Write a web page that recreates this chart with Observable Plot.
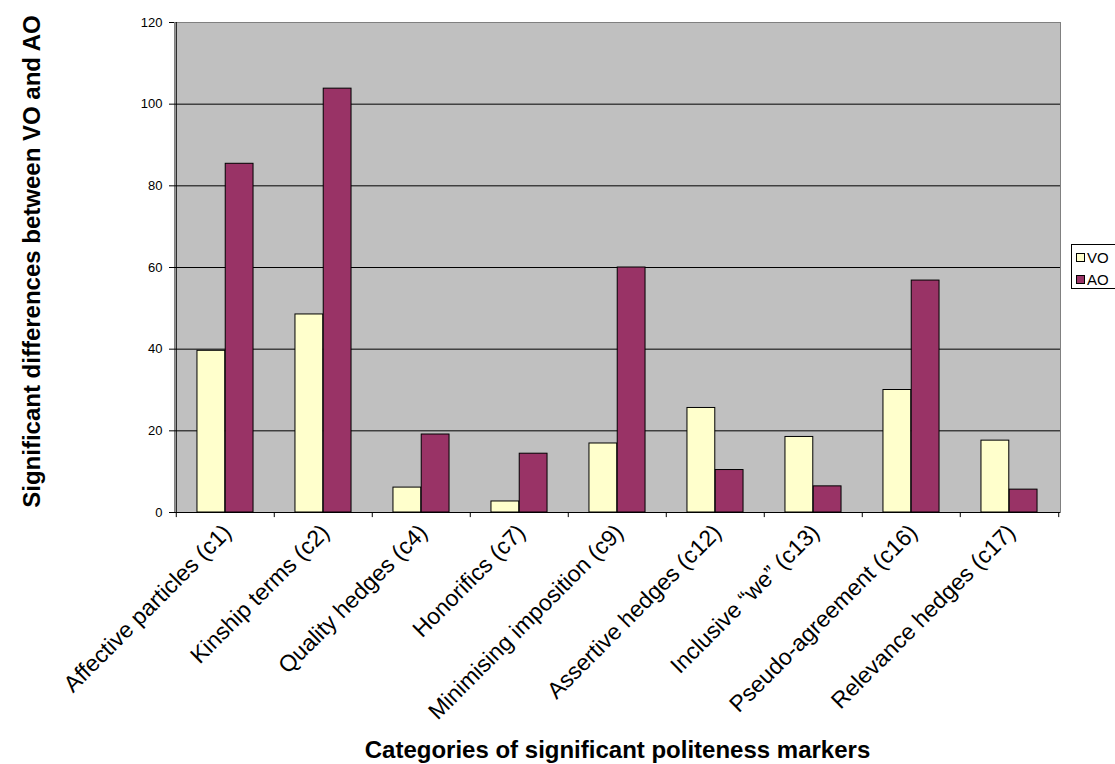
<!DOCTYPE html>
<html>
<head>
<meta charset="utf-8">
<script src="https://cdn.jsdelivr.net/npm/d3@7"></script>
<script src="https://cdn.jsdelivr.net/npm/@observablehq/plot@0.6"></script>
<style>
  html, body { margin: 0; padding: 0; background: #fff; overflow: hidden; }
  #wrap { position: relative; width: 1115px; height: 764px; font-family: "Liberation Sans", Arial, sans-serif; }
  #legend { position: absolute; left: 1071px; top: 244px; width: 60px; height: 45px; border: 1px solid #000; background: #fff; box-sizing: border-box; }
  .item { position: absolute; left: 4px; font-size: 15px; line-height: 15px; color: #000; display: flex; align-items: center; }
  .sw { width: 7px; height: 7px; border: 1px solid #000; margin-right: 2px; }
</style>
</head>
<body>
<div id="wrap"></div>
<script>
const categories = ["Affective particles (c1)", "Kinship terms (c2)", "Quality hedges (c4)", "Honorifics (c7)", "Minimising imposition (c9)", "Assertive hedges (c12)", "Inclusive \u201cwe\u201d (c13)", "Pseudo-agreement (c16)", "Relevance hedges (c17)"];
const seriesNames = ["VO", "AO"];
const voValues = [39.6, 48.5, 6.1, 2.7, 16.9, 25.6, 18.5, 30.0, 17.6];
const aoValues = [85.4, 103.8, 19.1, 14.4, 60.0, 10.4, 6.4, 56.8, 5.6];
const yTicks = [0, 20, 40, 60, 80, 100, 120];
const colors = {VO: "#FFFFCC", AO: "#993366"};
const xTitle = "Categories of significant politeness markers";
const yTitle = "Significant differences between VO and AO";

const W = 1115, H = 764, mL = 174, mR = 55, mT = 22, mB = 252;
const bw = (W - mL - mR) / categories.length;
const groupFrac = 0.574;
const outer = bw * (1 - groupFrac) / 2;
const half = bw / 2;

const chart = Plot.plot({
  width: W, height: H,
  marginLeft: mL, marginRight: mR, marginTop: mT, marginBottom: mB,
  style: {fontFamily: "'Liberation Sans', Arial, sans-serif", background: "white", color: "black"},
  x: {type: "band", domain: categories, padding: 0, axis: null},
  y: {domain: [0, 120], axis: null},
  marks: [
    Plot.frame({fill: "#C0C0C0", stroke: "#808080"}),
    Plot.ruleY(yTicks.filter(t => t > 0 && t < 120), {stroke: "#000"}),
    Plot.barY(categories, {x: d => d, y: (d, i) => voValues[i], fill: colors.VO, stroke: "#000", insetLeft: outer, insetRight: half}),
    Plot.barY(categories, {x: d => d, y: (d, i) => aoValues[i], fill: colors.AO, stroke: "#000", insetLeft: half, insetRight: outer}),
    Plot.ruleY([0], {stroke: "#000"}),
    Plot.ruleX([categories[0]], {x: d => d, y1: -1.25, y2: 120, dx: -half, stroke: "#000"}),
    Plot.ruleX(categories.slice(1), {x: d => d, y1: -1.25, y2: 0, dx: -half, stroke: "#000"}),
    Plot.ruleX([categories[categories.length - 1]], {x: d => d, y1: -1.25, y2: 0, dx: half, stroke: "#000"}),
    Plot.axisY(yTicks, {anchor: "left", tickSize: 5, tickPadding: 7, fontSize: 13, label: null, stroke: "#000", fill: "#000"}),
    Plot.text(categories, {x: d => d, y: 0, text: d => d, rotate: -45, textAnchor: "end", dy: 16, dx: 2, fontSize: 23, fill: "#000"}),
    Plot.text([xTitle], {frameAnchor: "bottom", text: d => d, textAnchor: "middle", lineAnchor: "middle", dy: 238, fontSize: 24, fontWeight: "bold", fill: "#000"}),
    Plot.text([yTitle], {frameAnchor: "left", text: d => d, textAnchor: "middle", lineAnchor: "middle", rotate: -90, dx: -142, dy: -6, fontSize: 24, fontWeight: "bold", fill: "#000"})
  ]
});
const wrap = document.getElementById("wrap");
wrap.appendChild(chart);

const legend = document.createElement("div");
legend.id = "legend";
seriesNames.forEach((s, i) => {
  const it = document.createElement("div");
  it.className = "item";
  it.style.top = (5 + i * 22) + "px";
  const sw = document.createElement("span");
  sw.className = "sw";
  sw.style.background = colors[s];
  it.appendChild(sw);
  it.appendChild(document.createTextNode(s));
  legend.appendChild(it);
});
wrap.appendChild(legend);
</script>
</body>
</html>
